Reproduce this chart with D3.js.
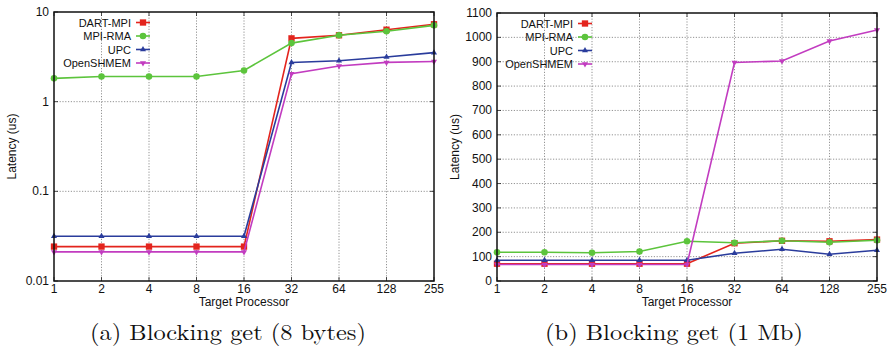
<!DOCTYPE html>
<html>
<head>
<meta charset="utf-8">
<script src="https://cdn.jsdelivr.net/npm/d3@7"></script>
<style>
  body { margin: 0; background: #fff; }
  svg { display: block; }
  .tick-label, .legend-label, .axis-title { font-family: "Liberation Sans", Arial, sans-serif; font-size: 12px; fill: #111; }
  .legend-label { font-size: 11px; }
  .caption { font-family: "Latin Modern Roman", "Times New Roman", serif; font-size: 22px; fill: #111; }
</style>
</head>
<body>
<svg id="chart" width="890" height="349"></svg>
<script>
// x categories (target processor)
const processors = ["1", "2", "4", "8", "16", "32", "64", "128", "255"];

// (a) Blocking get, 8 bytes -- latency in us, log scale
const dart8 = [0.0242, 0.0242, 0.0242, 0.0242, 0.0242, 5.08, 5.5, 6.35, 7.3];
const rma8 = [1.82, 1.91, 1.91, 1.91, 2.23, 4.5, 5.5, 6.1, 7.1];
const upc8 = [0.0315, 0.0315, 0.0315, 0.0315, 0.0315, 2.74, 2.86, 3.15, 3.52];
const shmem8 = [0.0211, 0.0211, 0.0211, 0.0211, 0.0211, 2.05, 2.5, 2.74, 2.81];

// (b) Blocking get, 1 Mb -- latency in us, linear scale
const dart1m = [71, 71, 71, 71, 71, 155, 165, 163, 170];
const rma1m = [118, 118, 116, 121, 163, 157, 165, 159, 167];
const upc1m = [85, 85, 85, 85, 85, 114, 130, 110, 126];
const shmem1m = [68, 68, 68, 68, 68, 897, 903, 985, 1030];

const seriesNames = ["DART-MPI", "MPI-RMA", "UPC", "OpenSHMEM"];
const seriesColors = ["#e3241d", "#5cc43c", "#2a3c9c", "#c23cc0"];
const seriesSymbols = [d3.symbolSquare, d3.symbolCircle, d3.symbolTriangle, d3.symbolTriangle];
const symbolSizes = [40, 34, 16, 16];

const logTicks = [0.01, 0.1, 1, 10];
const linTicks = [0, 100, 200, 300, 400, 500, 600, 700, 800, 900, 1000, 1100];

const svg = d3.select("#chart");

function drawPanel(opts) {
  const g = svg.append("g");
  const x = d3.scalePoint().domain(processors).range([opts.left, opts.right]);
  const y = opts.y;
  const top = opts.top, bottom = opts.bottom;

  // grid
  g.selectAll(".vgrid")
    .data(processors.slice(1, -1))
    .enter()
    .append("line")
    .attr("x1", (d) => x(d)).attr("x2", (d) => x(d))
    .attr("y1", top).attr("y2", bottom)
    .attr("stroke", "#777").attr("stroke-width", 0.8)
    .attr("stroke-dasharray", "1.2,1.6");
  g.selectAll(".hgrid")
    .data(opts.ticks.slice(1, -1))
    .enter()
    .append("line")
    .attr("x1", opts.left).attr("x2", opts.right)
    .attr("y1", (d) => y(d)).attr("y2", (d) => y(d))
    .attr("stroke", "#777").attr("stroke-width", 0.8)
    .attr("stroke-dasharray", "1.2,1.6");

  // tick marks (inward, gnuplot style)
  g.selectAll(".ytick")
    .data(opts.ticks)
    .enter()
    .append("path")
    .attr("d", (d) => `M${opts.left},${y(d)}h4M${opts.right},${y(d)}h-4`)
    .attr("stroke", "#222").attr("stroke-width", 0.8);
  g.selectAll(".xtick")
    .data(processors)
    .enter()
    .append("path")
    .attr("d", (d) => `M${x(d)},${bottom}v-4M${x(d)},${top}v4`)
    .attr("stroke", "#222").attr("stroke-width", 0.8);

  // tick labels
  g.selectAll(".ylab")
    .data(opts.ticks)
    .enter()
    .append("text")
    .attr("class", "tick-label")
    .attr("x", opts.left - 5)
    .attr("y", (d) => y(d) + 4)
    .attr("text-anchor", "end")
    .text(opts.fmt);
  g.selectAll(".xlab")
    .data(processors)
    .enter()
    .append("text")
    .attr("class", "tick-label")
    .attr("x", (d) => x(d))
    .attr("y", bottom + 12)
    .attr("text-anchor", "middle")
    .text((d) => d);

  // series
  const line = d3.line().x((d, i) => x(processors[i])).y((d) => y(d));
  opts.series.forEach((vals, s) => {
    g.append("path")
      .datum(vals)
      .attr("d", line)
      .attr("fill", "none")
      .attr("stroke", seriesColors[s])
      .attr("stroke-width", 1.6);
    g.selectAll(".m" + s)
      .data(vals)
      .enter()
      .append("path")
      .attr("d", d3.symbol().type(seriesSymbols[s]).size(symbolSizes[s]))
      .attr("transform", (d, i) =>
        `translate(${x(processors[i])},${y(d)})` + (s === 3 ? " rotate(180)" : ""))
      .attr("fill", seriesColors[s]);
  });

  // frame
  g.append("rect")
    .attr("x", opts.left).attr("y", top)
    .attr("width", opts.right - opts.left).attr("height", bottom - top)
    .attr("fill", "none").attr("stroke", "#111").attr("stroke-width", 1.5);

  // legend
  seriesNames.forEach((name, s) => {
    const ly = top + 10.5 + s * 13.5;
    g.append("text")
      .attr("class", "legend-label")
      .attr("x", opts.legendX)
      .attr("y", ly + 4)
      .attr("text-anchor", "end")
      .text(name);
    g.append("line")
      .attr("x1", opts.legendX + 5).attr("x2", opts.legendX + 19)
      .attr("y1", ly).attr("y2", ly)
      .attr("stroke", seriesColors[s]).attr("stroke-width", 1.6);
    g.append("path")
      .attr("d", d3.symbol().type(seriesSymbols[s]).size(symbolSizes[s]))
      .attr("transform", `translate(${opts.legendX + 12},${ly})` + (s === 3 ? " rotate(180)" : ""))
      .attr("fill", seriesColors[s]);
  });

  // axis titles
  g.append("text")
    .attr("class", "axis-title")
    .attr("transform", `translate(${opts.left - 38},${(top + bottom) / 2}) rotate(-90)`)
    .attr("text-anchor", "middle")
    .text("Latency (us)");
  g.append("text")
    .attr("class", "axis-title")
    .attr("x", (opts.left + opts.right) / 2)
    .attr("y", bottom + 25)
    .attr("text-anchor", "middle")
    .text("Target Processor");

  // caption
  g.append("text")
    .attr("class", "caption")
    .attr("x", opts.captionX)
    .attr("y", 340)
    .attr("text-anchor", "middle")
    .attr("textLength", opts.captionWidth)
    .attr("lengthAdjust", "spacingAndGlyphs")
    .text(opts.caption);
}

drawPanel({
  left: 54, right: 434, top: 12, bottom: 281,
  y: d3.scaleLog().domain([0.01, 10]).range([281, 12]),
  ticks: logTicks,
  fmt: (d) => String(d),
  series: [dart8, rma8, upc8, shmem8],
  legendX: 131,
  captionX: 228,
  captionWidth: 276,
  caption: "(a) Blocking get (8 bytes)",
});

drawPanel({
  left: 497, right: 877, top: 13, bottom: 281,
  y: d3.scaleLinear().domain([0, 1100]).range([281, 13]),
  ticks: linTicks,
  fmt: (d) => String(d),
  series: [dart1m, rma1m, upc1m, shmem1m],
  legendX: 573,
  captionX: 674,
  captionWidth: 258,
  caption: "(b) Blocking get (1 Mb)",
});
</script>
</body>
</html>
